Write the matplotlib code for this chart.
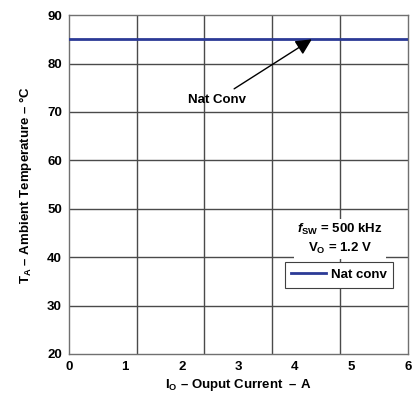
import numpy as np
import matplotlib.pyplot as plt

plt.rcParams['font.family'] = ['Liberation Sans', 'DejaVu Sans']
plt.rcParams['font.weight'] = 'bold'
plt.rcParams['mathtext.fontset'] = 'custom'
plt.rcParams['mathtext.rm'] = 'Liberation Sans:bold'
plt.rcParams['mathtext.it'] = 'Liberation Sans:italic:bold'
plt.rcParams['mathtext.bf'] = 'Liberation Sans:bold'
plt.rcParams['mathtext.default'] = 'rm'

# data
io_current = [0, 6]
ta_natconv = [85, 85]
x_ticks = [0, 1, 2, 3, 4, 5, 6]
y_ticks = [20, 30, 40, 50, 60, 70, 80, 90]
x_grid = [1.2, 2.4, 3.6, 4.8]

fs = 9.5
fig = plt.figure(figsize=(4.17, 3.99), dpi=100)
ax = fig.add_axes([0.165, 0.113, 0.813, 0.849])

for g in x_grid:
    ax.axvline(g, color='#4a4a4a', lw=1.0, zorder=1)
for g in y_ticks[1:-1]:
    ax.axhline(g, color='#4a4a4a', lw=1.0, zorder=1)

ax.plot(io_current, ta_natconv, color='#2b3a96', lw=2.0, zorder=3, label='Nat conv')

ax.set_xlim(0, 6)
ax.set_ylim(20, 90)
ax.set_xticks(x_ticks)
ax.set_yticks(y_ticks)
ax.tick_params(length=0, labelsize=fs, pad=5)
for s in ax.spines.values():
    s.set_color('#707070')
    s.set_linewidth(1.0)

ax.set_xlabel('I$_O$ – Ouput Current  – A', fontsize=fs, fontweight='bold', labelpad=3)
ax.set_ylabel('T$_A$ – Ambient Temperature – °C', fontsize=fs, fontweight='bold', labelpad=9)

ax.annotate('Nat Conv', xy=(4.3, 85), xytext=(2.62, 72.5), fontsize=fs, fontweight='bold',
            ha='center', va='center', zorder=5,
            arrowprops=dict(arrowstyle='-|>,head_length=0.6,head_width=0.3', color='black',
                            lw=1.0, mutation_scale=16, shrinkA=3, shrinkB=0))

ax.text(4.8, 43.8, '$\\mathit{f}_{SW}$ = 500 kHz\nV$_O$ = 1.2 V', fontsize=fs,
        fontweight='bold', ha='center', va='center', linespacing=1.4, zorder=4,
        bbox=dict(facecolor='white', edgecolor='none', pad=2))

leg = ax.legend(loc='upper left', bbox_to_anchor=(0.637, 0.271), fontsize=fs, frameon=True,
                fancybox=False, handlelength=2.6, handletextpad=0.4, borderpad=0.5,
                borderaxespad=0)
leg.get_frame().set_edgecolor('#404040')
leg.get_frame().set_linewidth(0.8)
leg.get_frame().set_alpha(1)

fig.savefig('out.png', dpi=100)
